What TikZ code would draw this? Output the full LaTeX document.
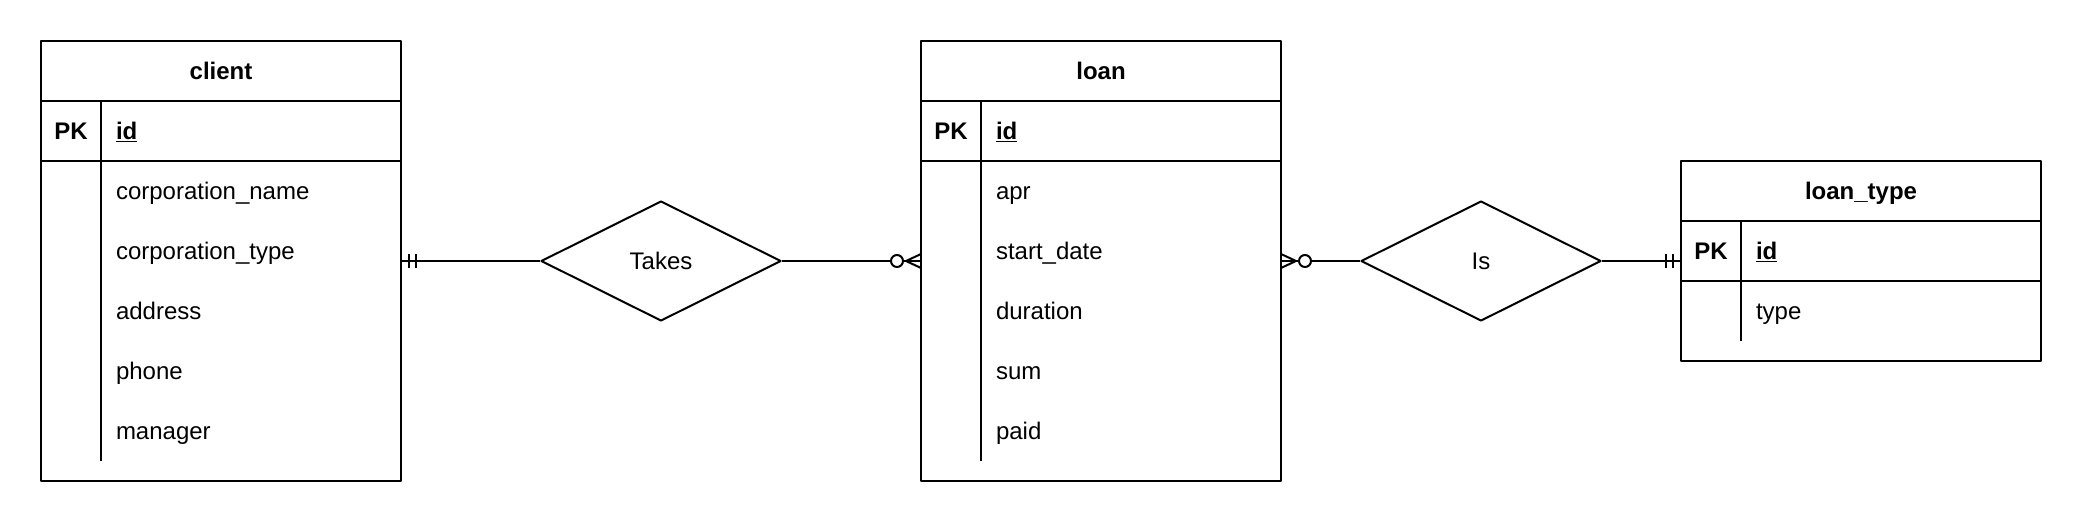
\documentclass[tikz,border=0pt]{standalone}
\usepackage{fontspec}
\setmainfont{Liberation Sans}
\usetikzlibrary{shapes.geometric}
\tikzset{
	entity/.style={draw, minimum width=360pt, inner sep=0pt, outer sep=0pt},
	rel/.style={draw, diamond, minimum width=240pt, minimum height=120pt, inner sep=0pt},
	field/.style={anchor=base west, inner sep=0pt},
}
\begin{document}
\begin{tikzpicture}[x=1pt, y=-1pt, line width=2pt, line join=round]
	\fontsize{24}{29}\selectfont
	\useasboundingbox (0,0) rectangle (2082,522);
	% entities and relations
	\node[entity, minimum height=440pt] (client) at (221,261) {};
	\node[entity, minimum height=440pt] (loan) at (1101,261) {};
	\node[entity, minimum height=200pt] (loantype) at (1861,261) {};
	\node[rel] (takes) at (661,261) {Takes};
	\node[rel] (is) at (1481,261) {Is};
	\foreach \t/\name in {client/client, loan/loan, loantype/loan\_type}{
		\draw (\t.north west) ++(0,60) -- ++(360,0) ++(-360,60) -- ++(360,0);
		\draw ([xshift=60pt,yshift=-60pt]\t.north west) -- ([xshift=60pt,yshift=20pt]\t.south west);
		\node[anchor=base, inner sep=0pt, font=\bfseries] (\t-title) at ([yshift=-38.5pt]\t.north) {\name};
		\node[anchor=base, inner sep=0pt, font=\bfseries] (\t-pk) at ([xshift=30pt,yshift=-98.5pt]\t.north west) {PK};
		\node[field] (\t-id) at ([xshift=74pt,yshift=-98.5pt]\t.north west) {\underline{\textbf{id}}};
	}
	\foreach \f [count=\i] in {corporation\_name, corporation\_type, address, phone, manager}
		\node[field] (client-f\i) at ([xshift=74pt,yshift={-98.5pt-60pt*\i}]client.north west) {\f};
	\foreach \f [count=\i] in {apr, start\_date, duration, sum, paid}
		\node[field] (loan-f\i) at ([xshift=74pt,yshift={-98.5pt-60pt*\i}]loan.north west) {\f};
	\node[field] (loantype-f1) at ([xshift=74pt,yshift=-158.5pt]loantype.north west) {type};
	% connectors
	\draw (client) -- (takes) (takes) -- (loan) (loan) -- (is) (is) -- (loantype);
	\foreach \a/\s in {client.east/1, loantype.west/-1}{
		\draw (\a) ++(8*\s,-7) -- ++(0,14) ++(7*\s,0) -- ++(0,-14);
	}
	\foreach \a/\s in {loan.west/-1, loan.east/1}{
		\draw (\a) ++(15*\s,0) -- ++(-15*\s,-7) (\a) ++(15*\s,0) -- ++(-15*\s,7);
		\draw[fill=white] (\a) ++(24*\s,0) circle (6);
	}
\end{tikzpicture}
\end{document}
